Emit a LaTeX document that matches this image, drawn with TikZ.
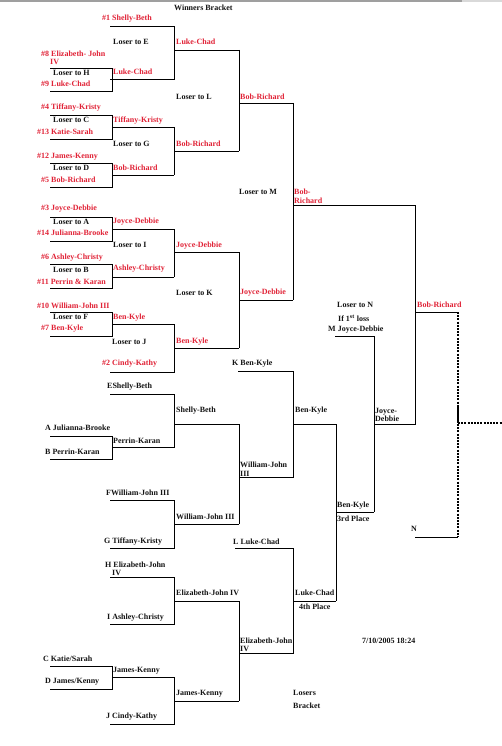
\documentclass[tikz,border=0pt]{standalone}
\usepackage{fontspec}
\setmainfont{Liberation Serif}
\definecolor{ink}{RGB}{20,20,20}
\definecolor{redtxt}{RGB}{225,35,55}
\tikzset{
  lbl/.style={font=\bfseries\fontsize{8}{8.5}\selectfont, inner sep=0pt, anchor=west, text=ink, align=left},
  rlbl/.style={lbl, text=redtxt},
  ln/.style={line width=0.9pt, draw=black},
  dln/.style={line width=1.4pt, draw=black, dash pattern=on 2pt off 1.2pt}
}
\begin{document}
\begin{tikzpicture}[x=1pt,y=-1pt]
\useasboundingbox (0,0) rectangle (502,746);
\fill[white] (0,0) rectangle (502,746);
\fill[gray!75] (0,0) rectangle (462,2.5);
\fill[gray!30] (462,0) rectangle (502,2);

% ---------- Winners bracket lines ----------
\draw[ln] (110,26) -| (174,79) -- (110,79);
\draw[ln] (50,68) -| (112,91) -- (50,91);
\draw[ln] (112,79) -- (174,79);
\draw[ln] (174,50) -- (239,50);
\draw[ln] (50,115) -| (112,139) -- (50,139);
\draw[ln] (112,127) -- (174,127);
\draw[ln] (50,163) -| (112,187) -- (50,187);
\draw[ln] (112,175) -- (174,175);
\draw[ln] (174,127) -- (174,175);
\draw[ln] (174,151) -- (239,151);
\draw[ln] (239,50) -- (239,151);
\draw[ln] (239,103) -- (293,103);
\draw[ln] (50,217) -| (112,241) -- (50,241);
\draw[ln] (112,229) -- (174,229);
\draw[ln] (50,264) -| (112,288) -- (50,288);
\draw[ln] (112,277) -- (174,277);
\draw[ln] (174,229) -- (174,277);
\draw[ln] (174,252) -- (239,252);
\draw[ln] (50,312) -| (112,336) -- (50,336);
\draw[ln] (112,324) -- (174,324);
\draw[ln] (110,372) -| (174,324);
\draw[ln] (174,348) -- (239,348);
\draw[ln] (239,252) -- (239,348);
\draw[ln] (239,300) -- (293,300);
\draw[ln] (293,103) -- (293,300);
\draw[ln] (293,205) -| (415,424) -- (374,424);
\draw[ln] (415,312) -- (458,312);
\draw[ln] (415,537) -- (458,537);
\draw[dln] (458,312) -- (458,537);
\draw[line width=1.6pt] (458,407) -- (458,423);
\draw[dln] (458,423) -- (502,423);
\draw[ln] (335,336) -| (374,512);

% ---------- Losers bracket lines ----------
\draw[ln] (238,371) -| (293,477) -- (239,477);
\draw[ln] (110,394) -| (174,447) -- (112,447);
\draw[ln] (50,436) -| (112,459) -- (50,459);
\draw[ln] (174,424) -- (239,424);
\draw[ln] (110,500) -| (174,548) -- (110,548);
\draw[ln] (174,524) -- (239,524);
\draw[ln] (239,424) -- (239,524);
\draw[ln] (293,424) -- (336,424);
\draw[ln] (235,548) -| (293,653) -- (239,653);
\draw[ln] (110,577) -| (174,624) -- (110,624);
\draw[ln] (174,601) -- (239,601);
\draw[ln] (50,666) -| (112,689) -- (50,689);
\draw[ln] (112,677) -- (174,677);
\draw[ln] (110,724) -| (174,677);
\draw[ln] (174,701) -- (239,701);
\draw[ln] (239,601) -- (239,701);
\draw[ln] (293,601) -- (336,601);
\draw[ln] (336,424) -- (336,601);
\draw[ln] (336,512) -- (374,512);

% ---------- Winners bracket texts ----------
\node[lbl] (wb) at (174,8) {Winners Bracket};
\node[rlbl] (s1) at (102,19) {\#1 Shelly-Beth};
\node[lbl] (le) at (113,42) {Loser to E};
\node[rlbl] (w1) at (176,42) {Luke-Chad};
\node[rlbl] (s8) at (41,54) {\#8 Elizabeth- John};
\node[rlbl] (s8b) at (50,62) {IV};
\node[lbl] (lh) at (53,73) {Loser to H};
\node[rlbl] (w2) at (113,72) {Luke-Chad};
\node[rlbl] (s9) at (41,84) {\#9 Luke-Chad};
\node[lbl] (ll) at (176,97) {Loser to L};
\node[rlbl] (w3) at (240,97) {Bob-Richard};
\node[rlbl] (s4) at (41,108) {\#4 Tiffany-Kristy};
\node[lbl] (lc) at (53,120) {Loser to C};
\node[rlbl] (w4) at (113,121) {Tiffany-Kristy};
\node[rlbl] (s13) at (37,132) {\#13 Katie-Sarah};
\node[lbl] (lg) at (113,144) {Loser to G};
\node[rlbl] (w5) at (176,144) {Bob-Richard};
\node[rlbl] (s12) at (37,157) {\#12 James-Kenny};
\node[lbl] (ld) at (53,168) {Loser to D};
\node[rlbl] (w6) at (113,168) {Bob-Richard};
\node[rlbl] (s5) at (41,180) {\#5 Bob-Richard};
\node[lbl] (lm) at (239,192) {Loser to M};
\node[rlbl] (w7) at (294,196.5) {Bob-\\Richard};
\node[rlbl] (s3) at (41,209) {\#3 Joyce-Debbie};
\node[lbl] (la) at (53,222) {Loser to A};
\node[rlbl] (w8) at (113,222) {Joyce-Debbie};
\node[rlbl] (s14) at (37,233) {\#14 Julianna-Brooke};
\node[lbl] (li) at (113,245) {Loser to I};
\node[rlbl] (w9) at (176,246) {Joyce-Debbie};
\node[rlbl] (s6) at (41,258) {\#6 Ashley-Christy};
\node[lbl] (lb) at (53,270) {Loser to B};
\node[rlbl] (w10) at (113,269) {Ashley-Christy};
\node[rlbl] (s11) at (37,282) {\#11 Perrin \& Karan};
\node[lbl] (lk) at (176,293) {Loser to K};
\node[rlbl] (w11) at (240,293) {Joyce-Debbie};
\node[rlbl] (s10) at (37,306) {\#10 William-John III};
\node[lbl] (lf) at (53,317) {Loser to F};
\node[rlbl] (w12) at (113,318) {Ben-Kyle};
\node[rlbl] (s7) at (41,329) {\#7 Ben-Kyle};
\node[lbl] (lj) at (112,342) {Loser to J};
\node[rlbl] (w13) at (176,342) {Ben-Kyle};
\node[rlbl] (s2) at (102,364) {\#2 Cindy-Kathy};
\node[lbl] (ln1) at (337,305) {Loser to N};
\node[lbl] (ln2) at (338,318) {If 1\textsuperscript{st} loss};
\node[lbl] (ln3) at (328,330) {M Joyce-Debbie};
\node[rlbl] (w14) at (417,305) {Bob-Richard};
\node[lbl] (jd) at (375,415) {Joyce-\\Debbie};
\node[lbl] (nn) at (411,529) {N};

% ---------- Losers bracket texts ----------
\node[lbl] (k) at (232,364) {K Ben-Kyle};
\node[lbl] (e) at (107,387) {EShelly-Beth};
\node[lbl] (l1) at (176,411) {Shelly-Beth};
\node[lbl] (l2) at (295,411) {Ben-Kyle};
\node[lbl] (a) at (45,428) {A Julianna-Brooke};
\node[lbl] (l3) at (113,441) {Perrin-Karan};
\node[lbl] (b) at (45,452) {B Perrin-Karan};
\node[lbl] (l4) at (240,469) {William-John\\III};
\node[lbl] (f) at (106,493) {FWilliam-John III};
\node[lbl] (l5) at (337,506) {Ben-Kyle};
\node[lbl] (l5b) at (337,519) {3rd Place};
\node[lbl] (l6) at (176,517) {William-John III};
\node[lbl] (g) at (104,542) {G Tiffany-Kristy};
\node[lbl] (l) at (233,542) {L Luke-Chad};
\node[lbl] (h) at (105,565) {H Elizabeth-John};
\node[lbl] (hb) at (112,573) {IV};
\node[lbl] (l7) at (176,593) {Elizabeth-John IV};
\node[lbl] (l8) at (295,593) {Luke-Chad};
\node[lbl] (l8b) at (299,607) {4th Place};
\node[lbl] (i) at (107,618) {I Ashley-Christy};
\node[lbl] (l9) at (240,645) {Elizabeth-John\\IV};
\node[lbl] (dt) at (362,641) {7/10/2005 18:24};
\node[lbl] (c) at (43,659) {C Katie/Sarah};
\node[lbl] (l10) at (113,671) {James-Kenny};
\node[lbl] (d) at (45,682) {D James/Kenny};
\node[lbl] (l11) at (176,694) {James-Kenny};
\node[lbl] (lbk) at (293,693) {Losers};
\node[lbl] (lbk2) at (293,706) {Bracket};
\node[lbl] (j) at (106,717) {J Cindy-Kathy};
\end{tikzpicture}
\end{document}
